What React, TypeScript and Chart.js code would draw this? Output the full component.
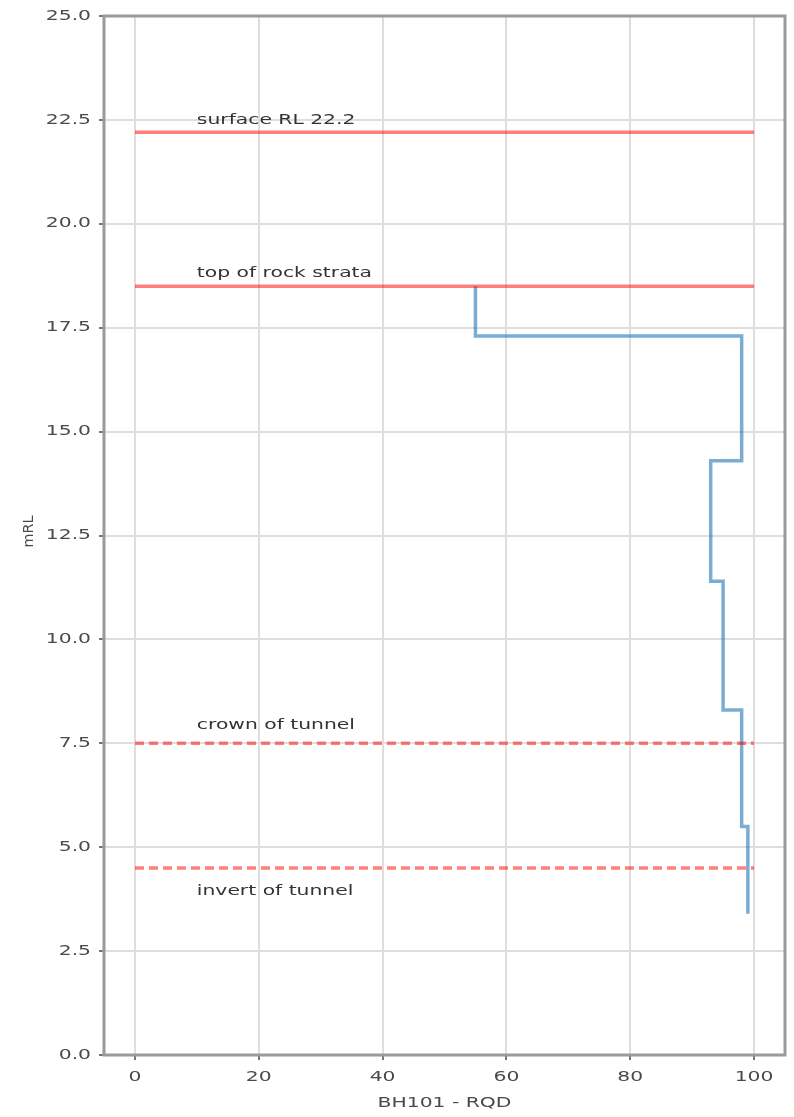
import React, { useEffect, useRef } from "react";
import { Chart, registerables } from "chart.js";

Chart.register(...registerables);

// RQD step profile (BH101)
const rqdValues = [55, 98, 93, 95, 98, 99];
const rqdTops = [18.5, 17.3, 14.3, 11.4, 8.3, 5.5];
const rqdBottoms = [17.3, 14.3, 11.4, 8.3, 5.5, 3.4];

// Reference levels
const levelNames = ["surface RL 22.2", "top of rock strata", "crown of tunnel", "invert of tunnel"];
const levelValues = [22.2, 18.5, 7.5, 4.5];
const levelDashed = [false, false, true, true];
const levelStartX = [0, 0, 0, 0];
const levelEndX = [100, 100, 100, 100];

// Label anchors (data coordinates)
const labelX = [10, 10, 10, 10];
const labelY = [22.4, 18.72, 7.85, 3.85];

// Axes
const xTickValues = [0, 20, 40, 60, 80, 100];
const yTickStep = 2.5;
const xMin = -5;
const xMax = 105;
const yMin = 0;
const yMax = 25;
const xTitle = "BH101 - RQD";
const yTitle = "mRL";

const FONT = "14px 'DejaVu Sans', sans-serif";
const STRETCH = 1.45;

function drawStretched(ctx: CanvasRenderingContext2D, text: string, x: number, y: number, align: CanvasTextAlign, baseline: CanvasTextBaseline) {
  ctx.save();
  ctx.translate(x, y);
  ctx.scale(STRETCH, 1);
  ctx.textAlign = align;
  ctx.textBaseline = baseline;
  ctx.fillText(text, 0, 0);
  ctx.restore();
}

export default function App() {
  const ref = useRef<HTMLCanvasElement | null>(null);

  useEffect(() => {
    if (!ref.current) return;
    const stepPoints: { x: number; y: number }[] = [];
    rqdValues.forEach((v, i) => {
      stepPoints.push({ x: v, y: rqdTops[i] });
      stepPoints.push({ x: v, y: rqdBottoms[i] });
    });

    const levelSets = levelValues.map((lv, i) => ({
      label: levelNames[i],
      data: [
        { x: levelStartX[i], y: lv },
        { x: levelEndX[i], y: lv },
      ],
      borderColor: "rgba(255,0,0,0.5)",
      borderWidth: 3.5,
      borderDash: levelDashed[i] ? [9, 5] : [],
      pointRadius: 0,
      showLine: true,
      fill: false,
    }));

    const textPlugin = {
      id: "texts",
      afterDatasetsDraw(chart: any) {
        const ctx = chart.ctx as CanvasRenderingContext2D;
        const xs = chart.scales.x;
        const ys = chart.scales.y;
        ctx.save();
        ctx.font = FONT;
        ctx.fillStyle = "#333";
        levelNames.forEach((t, i) => {
          drawStretched(ctx, t, xs.getPixelForValue(labelX[i]), ys.getPixelForValue(labelY[i]), "left", "alphabetic");
        });
        ctx.restore();
      },
      afterDraw(chart: any) {
        const { left, right, top, bottom } = chart.chartArea;
        const ctx = chart.ctx as CanvasRenderingContext2D;
        const xs = chart.scales.x;
        const ys = chart.scales.y;
        ctx.save();
        ctx.strokeStyle = "#9a9a9a";
        ctx.lineWidth = 3;
        ctx.strokeRect(left, top, right - left, bottom - top);

        ctx.font = FONT;
        ctx.fillStyle = "#4a4a4a";
        xs.ticks.forEach((t: any) => {
          drawStretched(ctx, String(t.value), xs.getPixelForValue(t.value), bottom + 22, "center", "middle");
        });
        ys.ticks.forEach((t: any) => {
          drawStretched(ctx, Number(t.value).toFixed(1), left - 13, ys.getPixelForValue(t.value), "right", "middle");
        });
        drawStretched(ctx, xTitle, (left + right) / 2, bottom + 48, "center", "middle");
        ctx.save();
        ctx.translate(29, (top + bottom) / 2 - 4);
        ctx.rotate(-Math.PI / 2);
        ctx.font = "12px 'DejaVu Sans', sans-serif";
        ctx.scale(1.2, 1.2);
        ctx.textAlign = "center";
        ctx.textBaseline = "middle";
        ctx.fillText(yTitle, 0, 0);
        ctx.restore();
        ctx.restore();
      },
    };

    const chart = new Chart(ref.current, {
      type: "scatter",
      data: {
        datasets: [
          ...levelSets,
          {
            label: "RQD",
            data: stepPoints,
            borderColor: "rgba(31,119,180,0.6)",
            borderWidth: 3.5,
            pointRadius: 0,
            showLine: true,
            fill: false,
          } as any,
        ],
      },
      options: {
        animation: false,
        responsive: false,
        maintainAspectRatio: false,
        layout: { padding: { top: 16, right: 9, left: 0, bottom: 0 } },
        plugins: { legend: { display: false }, tooltip: { enabled: false } },
        scales: {
          x: {
            type: "linear",
            min: xMin,
            max: xMax,
            afterBuildTicks: (s: any) => {
              s.ticks = xTickValues.map((v) => ({ value: v }));
            },
            afterFit: (s: any) => {
              s.height = 62;
            },
            grid: { color: "#dedede", lineWidth: 2, tickLength: 5, tickColor: "#777" },
            border: { display: false },
            ticks: { display: false },
            title: { display: false },
          },
          y: {
            type: "linear",
            min: yMin,
            max: yMax,
            afterFit: (s: any) => {
              s.width = 104;
            },
            grid: { color: "#dedede", lineWidth: 2, tickLength: 5, tickColor: "#777" },
            border: { display: false },
            ticks: { display: false, stepSize: yTickStep },
            title: { display: false },
          },
        },
      },
      plugins: [textPlugin],
    });
    return () => chart.destroy();
  }, []);

  return (
    <div style={{ position: "absolute", left: 0, top: 0, width: 794, height: 1117, background: "#fff" }}>
      <canvas ref={ref} width={794} height={1117} style={{ width: 794, height: 1117 }} />
    </div>
  );
}
